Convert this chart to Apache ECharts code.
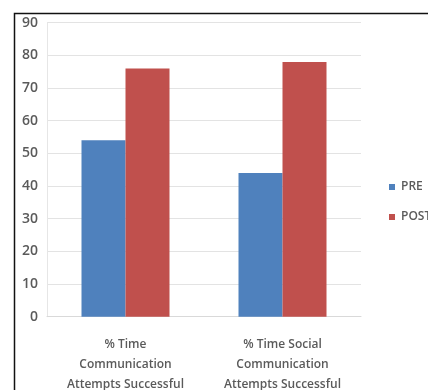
<!DOCTYPE html>
<html>
<head>
<meta charset="utf-8">
<script src="https://cdn.jsdelivr.net/npm/echarts@6/dist/echarts.min.js"></script>
<style>
  html, body { margin: 0; padding: 0; background: #fff; }
  #chart { width: 428px; height: 390px; }
</style>
</head>
<body>
<div id="chart"></div>
<script>
// Categories and values
var categories = [
  '% Time\nCommunication\nAttempts Successful',
  '% Time Social\nCommunication\nAttempts Successful'
];
var preValues = [54, 44];
var postValues = [76, 78];
var seriesNames = ['PRE', 'POST'];
var yTicks = { min: 0, max: 90, interval: 10 };

var textColor = '#5a5a5a';
var fontFamily = '"Open Sans", Lato, sans-serif';

var chart = echarts.init(document.getElementById('chart'), null, { renderer: 'canvas' });
chart.setOption({
  backgroundColor: '#ffffff',
  animation: false,
  graphic: [{
    type: 'rect',
    left: 12, top: 11,
    shape: { width: 430, height: 390 },
    style: { fill: 'none', stroke: '#111', lineWidth: 1.5 },
    silent: true
  }],
  grid: { left: 47, right: 67, top: 22.7, bottom: 73.3, containLabel: false, outerBoundsMode: 'none' },
  legend: {
    orient: 'vertical',
    left: 389,
    top: 179,
    padding: 0,
    itemWidth: 6,
    itemHeight: 6,
    itemGap: 14,
    icon: 'rect',
    textStyle: { color: textColor, fontFamily: fontFamily, fontSize: 12, fontWeight: 600, lineHeight: 16, padding: [0, 0, 0, 1] },
    data: seriesNames
  },
  xAxis: {
    type: 'category',
    data: categories,
    axisLine: { show: true, lineStyle: { color: '#d9d9d9' } },
    axisTick: { show: false },
    axisLabel: {
      interval: 0,
      color: textColor,
      fontFamily: fontFamily,
      fontSize: 12,
      fontWeight: 600,
      lineHeight: 20,
      margin: 18
    }
  },
  yAxis: {
    type: 'value',
    min: yTicks.min,
    max: yTicks.max,
    interval: yTicks.interval,
    axisLine: { show: true, lineStyle: { color: '#e6e6e6' } },
    axisTick: { show: false },
    splitLine: { lineStyle: { color: '#e3e3e3', width: 1 } },
    axisLabel: {
      color: textColor,
      fontFamily: fontFamily,
      fontSize: 14,
      fontWeight: 600,
      margin: 9
    }
  },
  series: [
    {
      name: seriesNames[0],
      type: 'bar',
      data: preValues,
      barWidth: 44,
      barGap: '0%',
      itemStyle: { color: '#4F81BD' }
    },
    {
      name: seriesNames[1],
      type: 'bar',
      data: postValues,
      barWidth: 44,
      barGap: '0%',
      itemStyle: { color: '#C0504D' }
    }
  ]
});
</script>
</body>
</html>
